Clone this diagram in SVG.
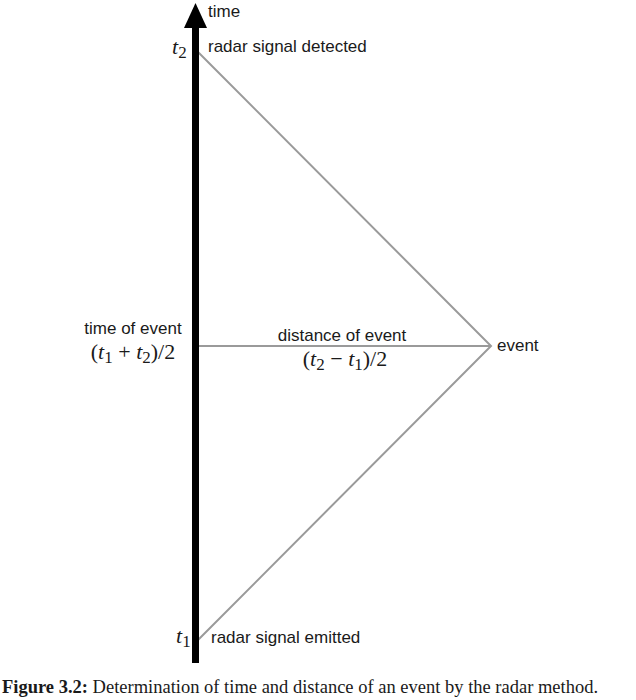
<svg xmlns="http://www.w3.org/2000/svg" width="636" height="700" viewBox="0 0 636 700">
<style>
.s{font-family:"Liberation Sans",Arial,sans-serif;font-size:17px;fill:#1a1a1a}
.m{font-family:"Liberation Serif","Times New Roman",serif;font-size:22px;fill:#1a1a1a}
.i{font-style:italic}
.sub{font-size:17px}
.c{font-family:"Liberation Serif","Times New Roman",serif;font-size:18.5px;fill:#1a1a1a}
.ln{stroke:#9a9a9a;stroke-width:2;fill:none}
</style>
<rect width="636" height="700" fill="#fff"/>
<g id="connectors">
<polyline class="ln" points="198,52 491,346 198,640"/>
<line class="ln" x1="198" y1="346" x2="491" y2="346"/>
</g>
<g id="time-axis">
<rect x="192" y="26" width="7" height="637" fill="#000"/>
<polygon points="195.5,3 184,28 207,28" fill="#000"/>
<text class="s" x="208" y="17">time</text>
</g>
<g id="t2">
<text class="m" x="172" y="54"><tspan class="i">t</tspan><tspan class="sub" dy="4">2</tspan></text>
<text class="s" x="208" y="52">radar signal detected</text>
</g>
<g id="time-of-event">
<text class="s" x="133" y="334" text-anchor="middle">time of event</text>
<text class="m" x="133" y="359" text-anchor="middle">(<tspan class="i">t</tspan><tspan class="sub" dy="4">1</tspan><tspan dy="-4"> + </tspan><tspan class="i">t</tspan><tspan class="sub" dy="4">2</tspan><tspan dy="-4">)/2</tspan></text>
</g>
<g id="distance">
<text class="s" x="342" y="341" text-anchor="middle">distance of event</text>
<text class="m" x="345" y="366" text-anchor="middle">(<tspan class="i">t</tspan><tspan class="sub" dy="4">2</tspan><tspan dy="-4"> − </tspan><tspan class="i">t</tspan><tspan class="sub" dy="4">1</tspan><tspan dy="-4">)/2</tspan></text>
</g>
<g id="event">
<text class="s" x="497" y="351">event</text>
</g>
<g id="t1">
<text class="m" x="176" y="643"><tspan class="i">t</tspan><tspan class="sub" dy="4">1</tspan></text>
<text class="s" x="211" y="643">radar signal emitted</text>
</g>
<g id="caption">
<text class="c" x="2" y="693"><tspan font-weight="bold">Figure 3.2:</tspan> Determination of time and distance of an event by the radar method.</text>
</g>
</svg>
